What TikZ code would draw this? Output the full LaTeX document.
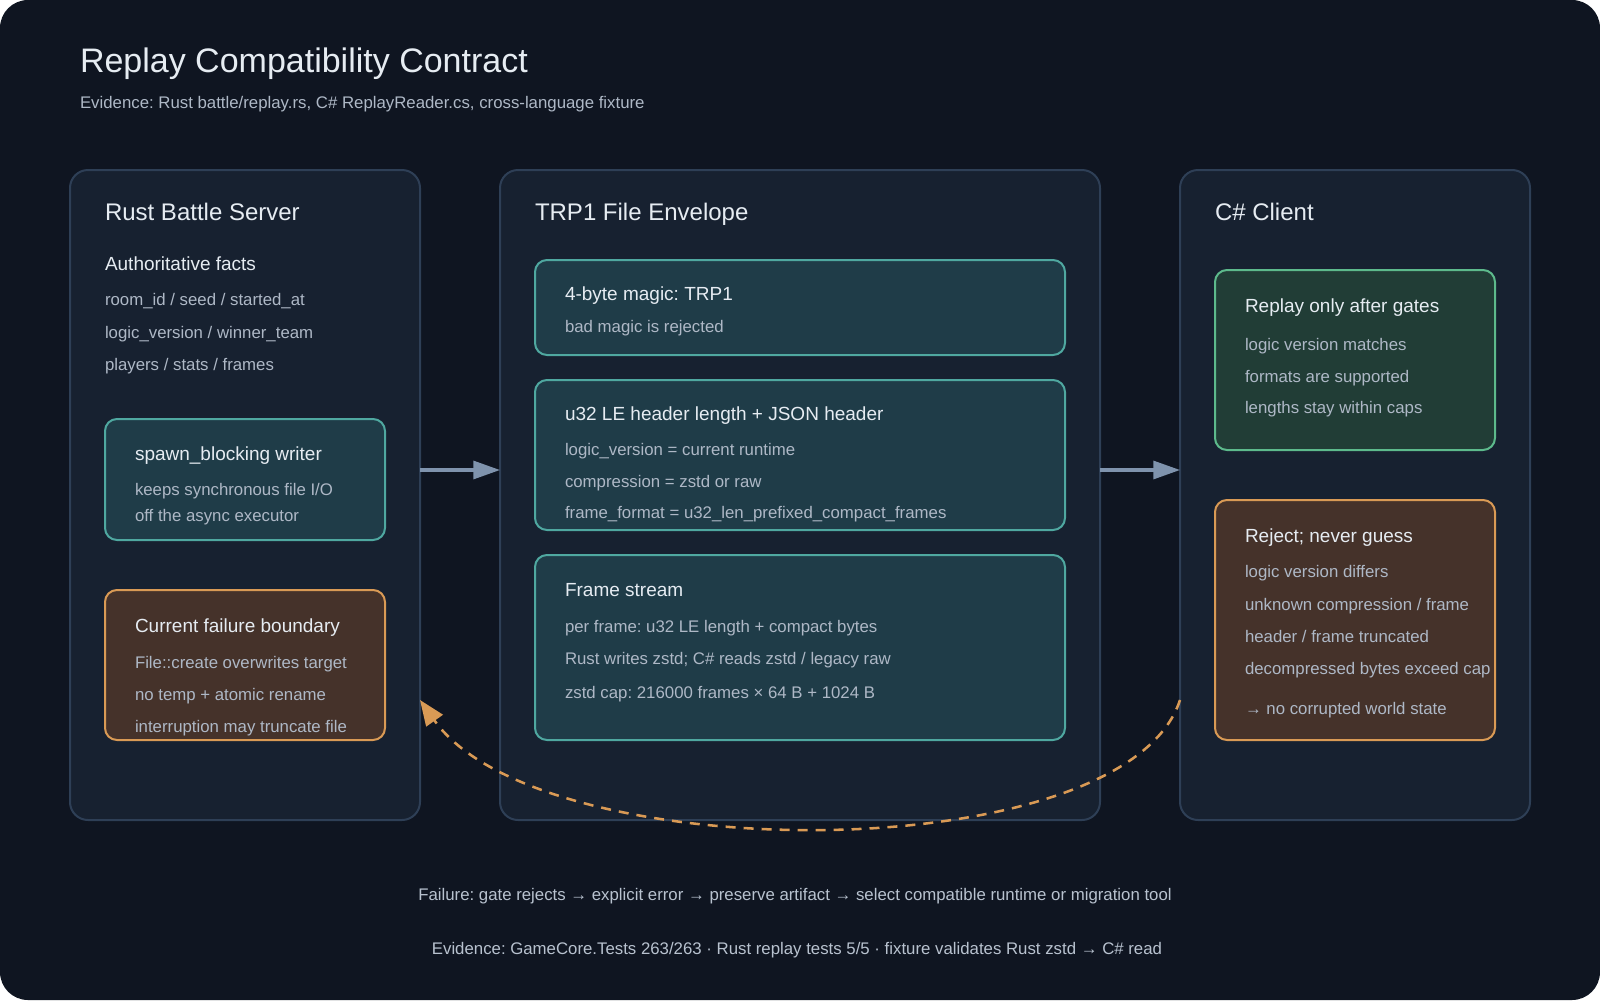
\documentclass[tikz,border=0pt]{standalone}
\usepackage{fontspec}
\setmainfont{Liberation Sans}
\usetikzlibrary{arrows.meta}
\definecolor{bg}{HTML}{0F1521}
\definecolor{panelfill}{HTML}{172130}
\definecolor{panelline}{HTML}{2E3F56}
\definecolor{tealfill}{HTML}{1F3C48}
\definecolor{tealline}{HTML}{4FA8A0}
\definecolor{greenfill}{HTML}{213D36}
\definecolor{greenline}{HTML}{5DBA8C}
\definecolor{orangefill}{HTML}{45322A}
\definecolor{orangeline}{HTML}{D99A55}
\definecolor{headtext}{HTML}{E6ECF2}
\definecolor{bodytext}{HTML}{AEB8C6}
\definecolor{foottext}{HTML}{B8C2CF}
\definecolor{arrowcol}{HTML}{7F93AD}
\tikzset{
  panel/.style 2 args={draw=panelline, fill=panelfill, line width=1.5pt, rounded corners=13.5pt,
    inner sep=0pt, outer sep=0pt, minimum width=#1*0.75pt, minimum height=#2*0.75pt},
  card/.style n args={4}{draw=#3, fill=#4, line width=1.5pt, rounded corners=9pt,
    inner sep=0pt, outer sep=0pt, minimum width=#1*0.75pt, minimum height=#2*0.75pt},
  txt/.style={anchor=base west, inner sep=0pt, outer sep=0pt},
  maintitle/.style={txt, text=headtext, font=\fontsize{25.5}{30}\selectfont},
  subtitle/.style={txt, text=bodytext, font=\fontsize{12.6}{15}\selectfont},
  ptitle/.style={txt, text=headtext, font=\fontsize{18}{22}\selectfont},
  btitle/.style={txt, text=headtext, font=\fontsize{14.25}{17}\selectfont},
  body/.style={txt, text=bodytext, font=\fontsize{12.6}{15}\selectfont},
  foot/.style={anchor=base, inner sep=0pt, outer sep=0pt, text=foottext, font=\fontsize{12.6}{15}\selectfont},
  flow/.style={draw=arrowcol, line width=2.3pt, -{Triangle[length=20pt, width=13.5pt]}},
  backflow/.style={draw=orangeline, line width=1.9pt, dash pattern=on 7.5pt off 6pt,
    -{Triangle[length=19pt, width=15pt]}},
}
\begin{document}
\frenchspacing
\begin{tikzpicture}[x=0.75pt, y=-0.75pt]
\useasboundingbox (0,0) rectangle (1600,1000);
\fill[bg, rounded corners=21pt] (0,0) rectangle (1600,1000);

% header
\node[maintitle] (title) at (80,72) {Replay Compatibility Contract};
\node[subtitle] (subtitle) at (80,108) {Evidence: Rust battle/replay.rs, C\# ReplayReader.cs, cross-language fixture};

% panels
\node[panel={350}{650}] (rust) at (245,495) {};
\node[panel={600}{650}] (trp) at (800,495) {};
\node[panel={350}{650}] (client) at (1355,495) {};

% left panel
\node[ptitle] (rusttitle) at (105,220) {Rust Battle Server};
\node[btitle] (facts) at (105,270) {Authoritative facts};
\node[body] (f1) at (105,305) {room\_id / seed / started\_at};
\node[body] (f2) at (105,338) {logic\_version / winner\_team};
\node[body] (f3) at (105,370) {players / stats / frames};

\node[card={280}{121}{tealline}{tealfill}] (spawn) at (245,479.5) {};
\node[btitle] (spawnt) at (135,460) {spawn\_blocking writer};
\node[body] (s1) at (135,495) {keeps synchronous file I/O};
\node[body] (s2) at (135,521) {off the async executor};

\node[card={280}{150}{orangeline}{orangefill}] (fail) at (245,665) {};
\node[btitle] (failt) at (135,632) {Current failure boundary};
\node[body] (c1) at (135,668) {File::create overwrites target};
\node[body] (c2) at (135,700) {no temp + atomic rename};
\node[body] (c3) at (135,732) {interruption may truncate file};

% middle panel
\node[ptitle] (trptitle) at (535,220) {TRP1 File Envelope};
\node[card={530}{95}{tealline}{tealfill}] (magic) at (800,307.5) {};
\node[btitle] (magict) at (565,300) {4-byte magic: TRP1};
\node[body] (m1) at (565,332) {bad magic is rejected};

\node[card={530}{150}{tealline}{tealfill}] (header) at (800,455) {};
\node[btitle] (headert) at (565,420) {u32 LE header length + JSON header};
\node[body] (h1) at (565,455) {logic\_version = current runtime};
\node[body] (h2) at (565,487) {compression = zstd or raw};
\node[body] (h3) at (565,518) {frame\_format = u32\_len\_prefixed\_compact\_frames};

\node[card={530}{185}{tealline}{tealfill}] (frames) at (800,647.5) {};
\node[btitle] (framest) at (565,596) {Frame stream};
\node[body] (r1) at (565,632) {per frame: u32 LE length + compact bytes};
\node[body] (r2) at (565,664) {Rust writes zstd; C\# reads zstd / legacy raw};
\node[body] (r3) at (565,698) {zstd cap: 216000 frames × 64 B + 1024 B};

% right panel
\node[ptitle] (clienttitle) at (1215,220) {C\# Client};
\node[card={280}{180}{greenline}{greenfill}] (gates) at (1355,360) {};
\node[btitle] (gatest) at (1245,312) {Replay only after gates};
\node[body] (g1) at (1245,350) {logic version matches};
\node[body] (g2) at (1245,382) {formats are supported};
\node[body] (g3) at (1245,413) {lengths stay within caps};

\node[card={280}{240}{orangeline}{orangefill}] (reject) at (1355,620) {};
\node[btitle] (rejectt) at (1245,542) {Reject; never guess};
\node[body] (j1) at (1245,577) {logic version differs};
\node[body] (j2) at (1245,610) {unknown compression / frame};
\node[body] (j3) at (1245,642) {header / frame truncated};
\node[body] (j4) at (1245,674) {decompressed bytes exceed cap};
\node[body] (j5) at (1245,714) {→ no corrupted world state};

% connectors
\draw[flow] (rust.east |- 0,470) -- (trp.west |- 0,470);
\draw[flow] (trp.east |- 0,470) -- (client.west |- 0,470);
\draw[backflow] (client.west |- 0,700) .. controls (1125,870) and (540,870) .. (rust.east |- 0,700);

% footer
\node[foot] (foot1) at (795,900) {Failure: gate rejects → explicit error → preserve artifact → select compatible runtime or migration tool};
\node[foot] (foot2) at (797,954) {Evidence: GameCore.Tests 263/263 · Rust replay tests 5/5 · fixture validates Rust zstd → C\# read};
\end{tikzpicture}
\end{document}
